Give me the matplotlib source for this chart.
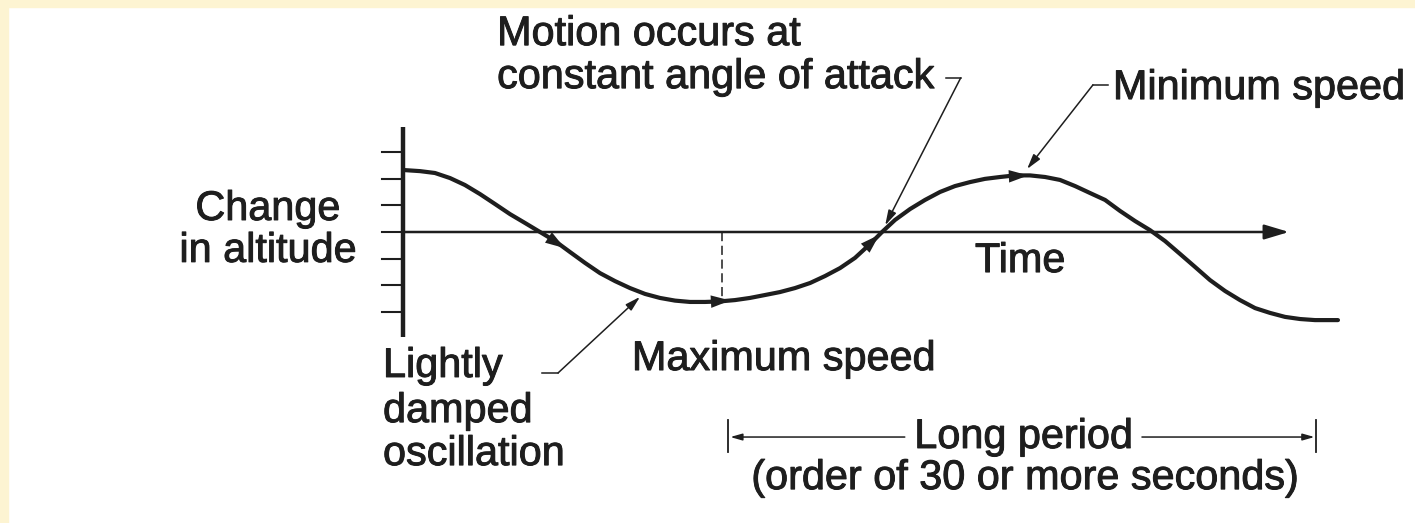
import numpy as np
import matplotlib
matplotlib.use("Agg")
import matplotlib.pyplot as plt
import matplotlib.patheffects as pe
from matplotlib.patches import Rectangle

# Phugoid motion: change in altitude against time (seconds)
t_s = [0.05, 0.87, 1.63, 2.40, 3.16, 3.93, 4.69, 5.46, 6.22, 6.99, 7.76,
       8.52, 9.29, 10.05, 10.82, 11.58, 12.35, 13.11, 13.88, 14.64, 15.41,
       16.17, 16.94, 17.70, 18.47, 19.23, 20.00, 20.77, 21.53, 22.30, 23.06,
       23.83, 24.44, 25.10, 25.87, 26.63, 27.40, 28.16, 28.93, 29.69, 30.46,
       31.22, 31.99, 32.76, 33.52, 34.29, 35.05, 35.82, 36.58, 37.35, 38.11,
       38.88, 39.64, 40.41, 41.17, 41.94, 42.70, 43.47, 44.23, 45.00, 45.77,
       46.53, 47.70]
altitude = [2.32, 2.28, 2.21, 2.02, 1.76, 1.42, 1.05, 0.67, 0.34, 0.0, -0.34,
            -0.75, -1.16, -1.54, -1.84, -2.10, -2.32, -2.47, -2.57, -2.62,
            -2.62, -2.60, -2.55, -2.47, -2.36, -2.25, -2.10, -1.91, -1.65,
            -1.35, -0.97, -0.45, 0.0, 0.45, 0.86, 1.20, 1.50, 1.72, 1.87,
            1.99, 2.06, 2.12, 2.12, 2.06, 1.95, 1.72, 1.46, 1.20, 0.79, 0.41,
            0.07, -0.34, -0.82, -1.31, -1.80, -2.21, -2.55, -2.85, -3.03,
            -3.18, -3.26, -3.30, -3.30]
alt_ticks = [-3, -2, -1, 0, 1, 2, 3]
flow_marks = [7.65, 16.1, 23.7, 31.3]     # small arrows along the path
max_speed_t = 16.3
period_start, period_end = 16.6, 46.6

ink = "#1e1e1e"
plt.rcParams['font.family'] = ['Liberation Sans', 'DejaVu Sans']
fs = 29.8

fig = plt.figure(figsize=(14.15, 5.23), dpi=100)
ax = fig.add_axes([0, 0, 1, 1])
ax.set_xlim(-20.56, 51.63)
ax.set_ylim(-10.90, 8.69)
ax.axis('off')

# scan border along top and left edge
fig.patches.append(Rectangle((0, 1 - 0.0134), 1, 0.0134, transform=fig.transFigure,
                             color="#fdf4d2", zorder=0))
fig.patches.append(Rectangle((0, 0), 0.0057, 1, transform=fig.transFigure,
                             color="#fdf4d2", zorder=0))

# altitude axis with ticks
ax.plot([0, 0], [-3.95, 3.95], color=ink, lw=3.2, solid_capstyle='butt')
for a in alt_ticks:
    ax.plot([-1.07, 0], [a, a], color=ink, lw=1.5)

# time axis
ax.annotate('', xy=(45.2, 0), xytext=(0, 0),
            arrowprops=dict(arrowstyle='-|>,head_length=1.5,head_width=0.45',
                            color=ink, lw=1.8, shrinkA=0, shrinkB=0))

# the oscillation
ax.plot(t_s, altitude, color=ink, lw=3.0, solid_capstyle='round',
        solid_joinstyle='round')
for tm in flow_marks:
    a0 = np.interp(tm - 0.6, t_s, altitude)
    a1 = np.interp(tm + 0.6, t_s, altitude)
    ax.annotate('', xy=(tm + 0.6, a1), xytext=(tm - 0.6, a0),
                arrowprops=dict(arrowstyle='-|>,head_length=1.4,head_width=0.45',
                                color=ink, lw=0, shrinkA=0, shrinkB=0))

# dashed drop at maximum speed
ax.plot([max_speed_t, max_speed_t], [0, np.interp(max_speed_t, t_s, altitude)],
        color=ink, lw=1.1, ls=(0, (6, 3)))

# leaders
lead = dict(arrowstyle='-|>,head_length=0.9,head_width=0.25', color=ink,
            lw=1.1, shrinkA=0, shrinkB=0)
ax.plot([27.7, 28.45], [5.77, 5.77], color=ink, lw=1.1)
ax.annotate('', xy=(24.6, 0.25), xytext=(28.45, 5.77), arrowprops=lead)
ax.plot([35.2, 35.97], [5.51, 5.51], color=ink, lw=1.1)
ax.annotate('', xy=(31.84, 2.36), xytext=(35.2, 5.51), arrowprops=lead)
ax.plot([7.09, 7.91], [-5.28, -5.28], color=ink, lw=1.1)
ax.annotate('', xy=(12.09, -2.43), xytext=(7.91, -5.28), arrowprops=lead)

# long period bracket
for tb in (period_start, period_end):
    ax.plot([tb, tb], [-7.04, -8.24], color=ink, lw=1.3)
small = dict(arrowstyle='-|>,head_length=0.7,head_width=0.2', color=ink,
             lw=1.1, shrinkA=0, shrinkB=0)
ax.annotate('', xy=(period_start + 0.1, -7.68), xytext=(25.6, -7.68), arrowprops=small)
ax.annotate('', xy=(period_end - 0.1, -7.68), xytext=(37.7, -7.68), arrowprops=small)

# labels
txt = dict(fontsize=fs, color=ink, va='baseline',
           path_effects=[pe.withStroke(linewidth=0.7, foreground=ink)])
ax.text(4.80, 7.00, "Motion occurs at", ha='left', **txt)
ax.text(4.80, 5.39, "constant angle of attack", ha='left', **txt)
ax.text(36.22, 4.98, "Minimum speed", ha='left', **txt)
ax.text(-6.89, 0.45, "Change", ha='center', **txt)
ax.text(-6.89, -1.12, "in altitude", ha='center', **txt)
ax.text(29.18, -1.50, "Time", ha='left', **txt)
ax.text(11.68, -5.17, "Maximum speed", ha='left', **txt)
ax.text(-1.02, -5.43, "Lightly", ha='left', **txt)
ax.text(-1.02, -7.12, "damped", ha='left', **txt)
ax.text(-1.02, -8.73, "oscillation", ha='left', **txt)
ax.text(31.66, -8.09, "Long period", ha='center', **txt)
ax.text(31.73, -9.63, "(order of 30 or more seconds)", ha='center', **txt)

fig.savefig("out.png", dpi=100, facecolor="white")
